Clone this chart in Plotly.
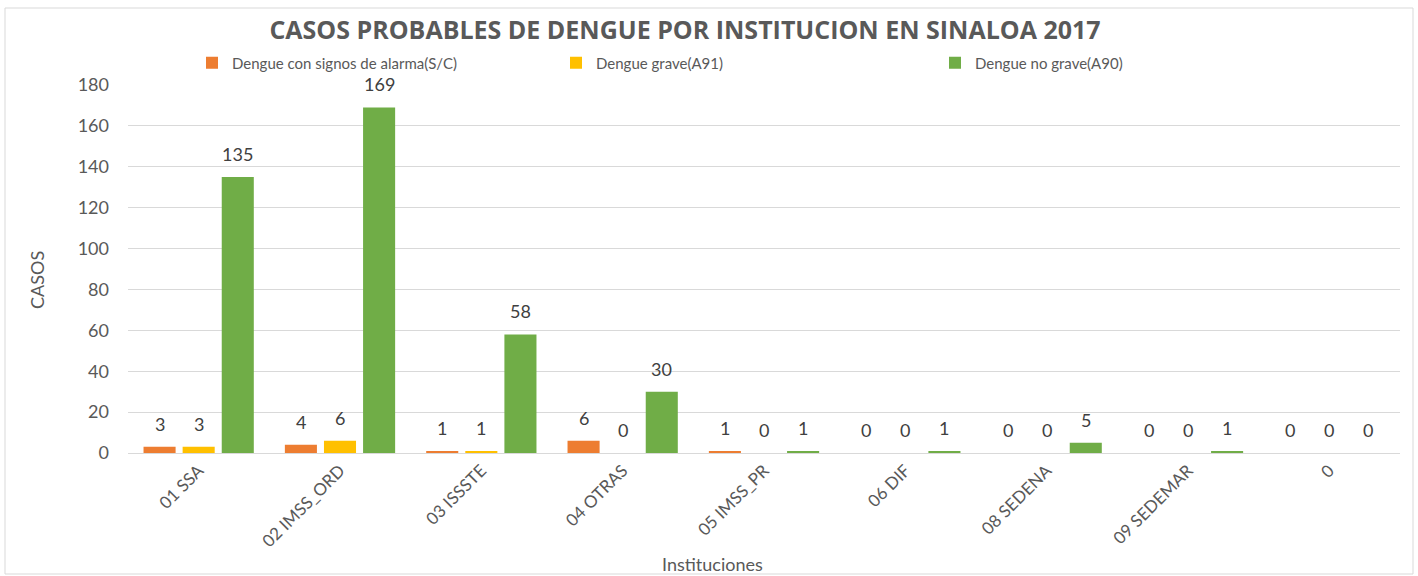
import plotly.graph_objects as go

categories = ["01 SSA", "02 IMSS_ORD", "03 ISSSTE", "04 OTRAS", "05 IMSS_PR",
              "06 DIF", "08 SEDENA", "09 SEDEMAR", "0"]
con_signos = [3, 4, 1, 6, 1, 0, 0, 0, 0]
grave = [3, 6, 1, 0, 0, 0, 0, 0, 0]
no_grave = [135, 169, 58, 30, 1, 1, 5, 1, 0]

series = [
    ("Dengue con signos de alarma(S/C)", con_signos, "#ED7D31", "legend2"),
    ("Dengue grave(A91)", grave, "#FFC000", "legend3"),
    ("Dengue no grave(A90)", no_grave, "#70AD47", "legend4"),
]

W, H = 1418, 576
ML, MR, MT, MB = 128, 18, 85, 123
PW = W - ML - MR
PH = H - MT - MB
BARGAP = 0.17
FONT = "Lato"

fig = go.Figure()
for name, vals, color, leg in series:
    fig.add_trace(go.Bar(
        x=categories, y=vals, name=name, legend=leg,
        marker=dict(color=color, line=dict(width=0)),
    ))

slot = (1 - BARGAP) * PW / len(categories) / len(series)
annotations = []
for j, (name, vals, color, leg) in enumerate(series):
    for i, v in enumerate(vals):
        annotations.append(dict(
            x=i, y=v, xref="x", yref="y", text=str(v), showarrow=False,
            xshift=(j - 1) * slot, yshift=23, yanchor="middle",
            font=dict(family=FONT, size=18, color="#404040"),
        ))

annotations.append(dict(
    text="Instituciones", xref="paper", yref="paper",
    x=(712 - ML) / PW, y=-(564 - (MT + PH)) / PH, showarrow=False,
    xanchor="center", yanchor="middle",
    font=dict(family=FONT, size=18, color="#595959"),
))
annotations.append(dict(
    text="CASOS", xref="paper", yref="paper",
    x=(37 - ML) / PW, y=(MT + PH - 280) / PH, showarrow=False,
    xanchor="center", yanchor="middle", textangle=-90,
    font=dict(family=FONT, size=18, color="#595959"),
))

leg_y = (MT + PH - 63) / PH
legend_common = dict(orientation="h", yref="paper", y=leg_y, yanchor="middle",
                     xanchor="left", bgcolor="rgba(0,0,0,0)",
                     font=dict(family=FONT, size=15, color="#595959"))

fig.update_layout(
    width=W, height=H,
    margin=dict(l=ML, r=MR, t=MT, b=MB, autoexpand=False),
    paper_bgcolor="white", plot_bgcolor="white",
    barmode="group", bargap=BARGAP, bargroupgap=0.18,
    title=dict(text="<b>CASOS PROBABLES DE DENGUE POR INSTITUCION EN SINALOA 2017</b>",
               xref="paper", x=(685 - ML) / PW, xanchor="center",
               yref="container", y=1 - 30 / H, yanchor="middle",
               font=dict(family="Open Sans", size=25, color="#595959")),
    legend=dict(visible=False),
    legend2=dict(x=(192 - ML) / PW, **legend_common),
    legend3=dict(x=(556 - ML) / PW, **legend_common),
    legend4=dict(x=(935 - ML) / PW, **legend_common),
    xaxis=dict(type="category", tickangle=-45, showgrid=False, showline=True,
               linecolor="#D9D9D9", linewidth=1, ticks="",
               tickfont=dict(family=FONT, size=17, color="#595959")),
    yaxis=dict(range=[0, 180], dtick=20, showgrid=True, gridcolor="#D9D9D9",
               gridwidth=1, zeroline=False, showline=False, ticks="",
               ticklabelstandoff=18,
               tickfont=dict(family=FONT, size=18, color="#595959")),
    annotations=annotations,
    shapes=[dict(type="rect", xref="paper", yref="paper",
                 x0=(5 - ML) / PW, x1=(1413 - ML) / PW,
                 y0=-(574 - (MT + PH)) / PH, y1=(MT + PH - 8) / PH,
                 line=dict(color="#D9D9D9", width=1), fillcolor="rgba(0,0,0,0)",
                 layer="below")],
)

fig.write_html("out.html", config={"displayModeBar": False},
               post_script="document.body.style.margin='0px';document.body.style.overflow='hidden';")
